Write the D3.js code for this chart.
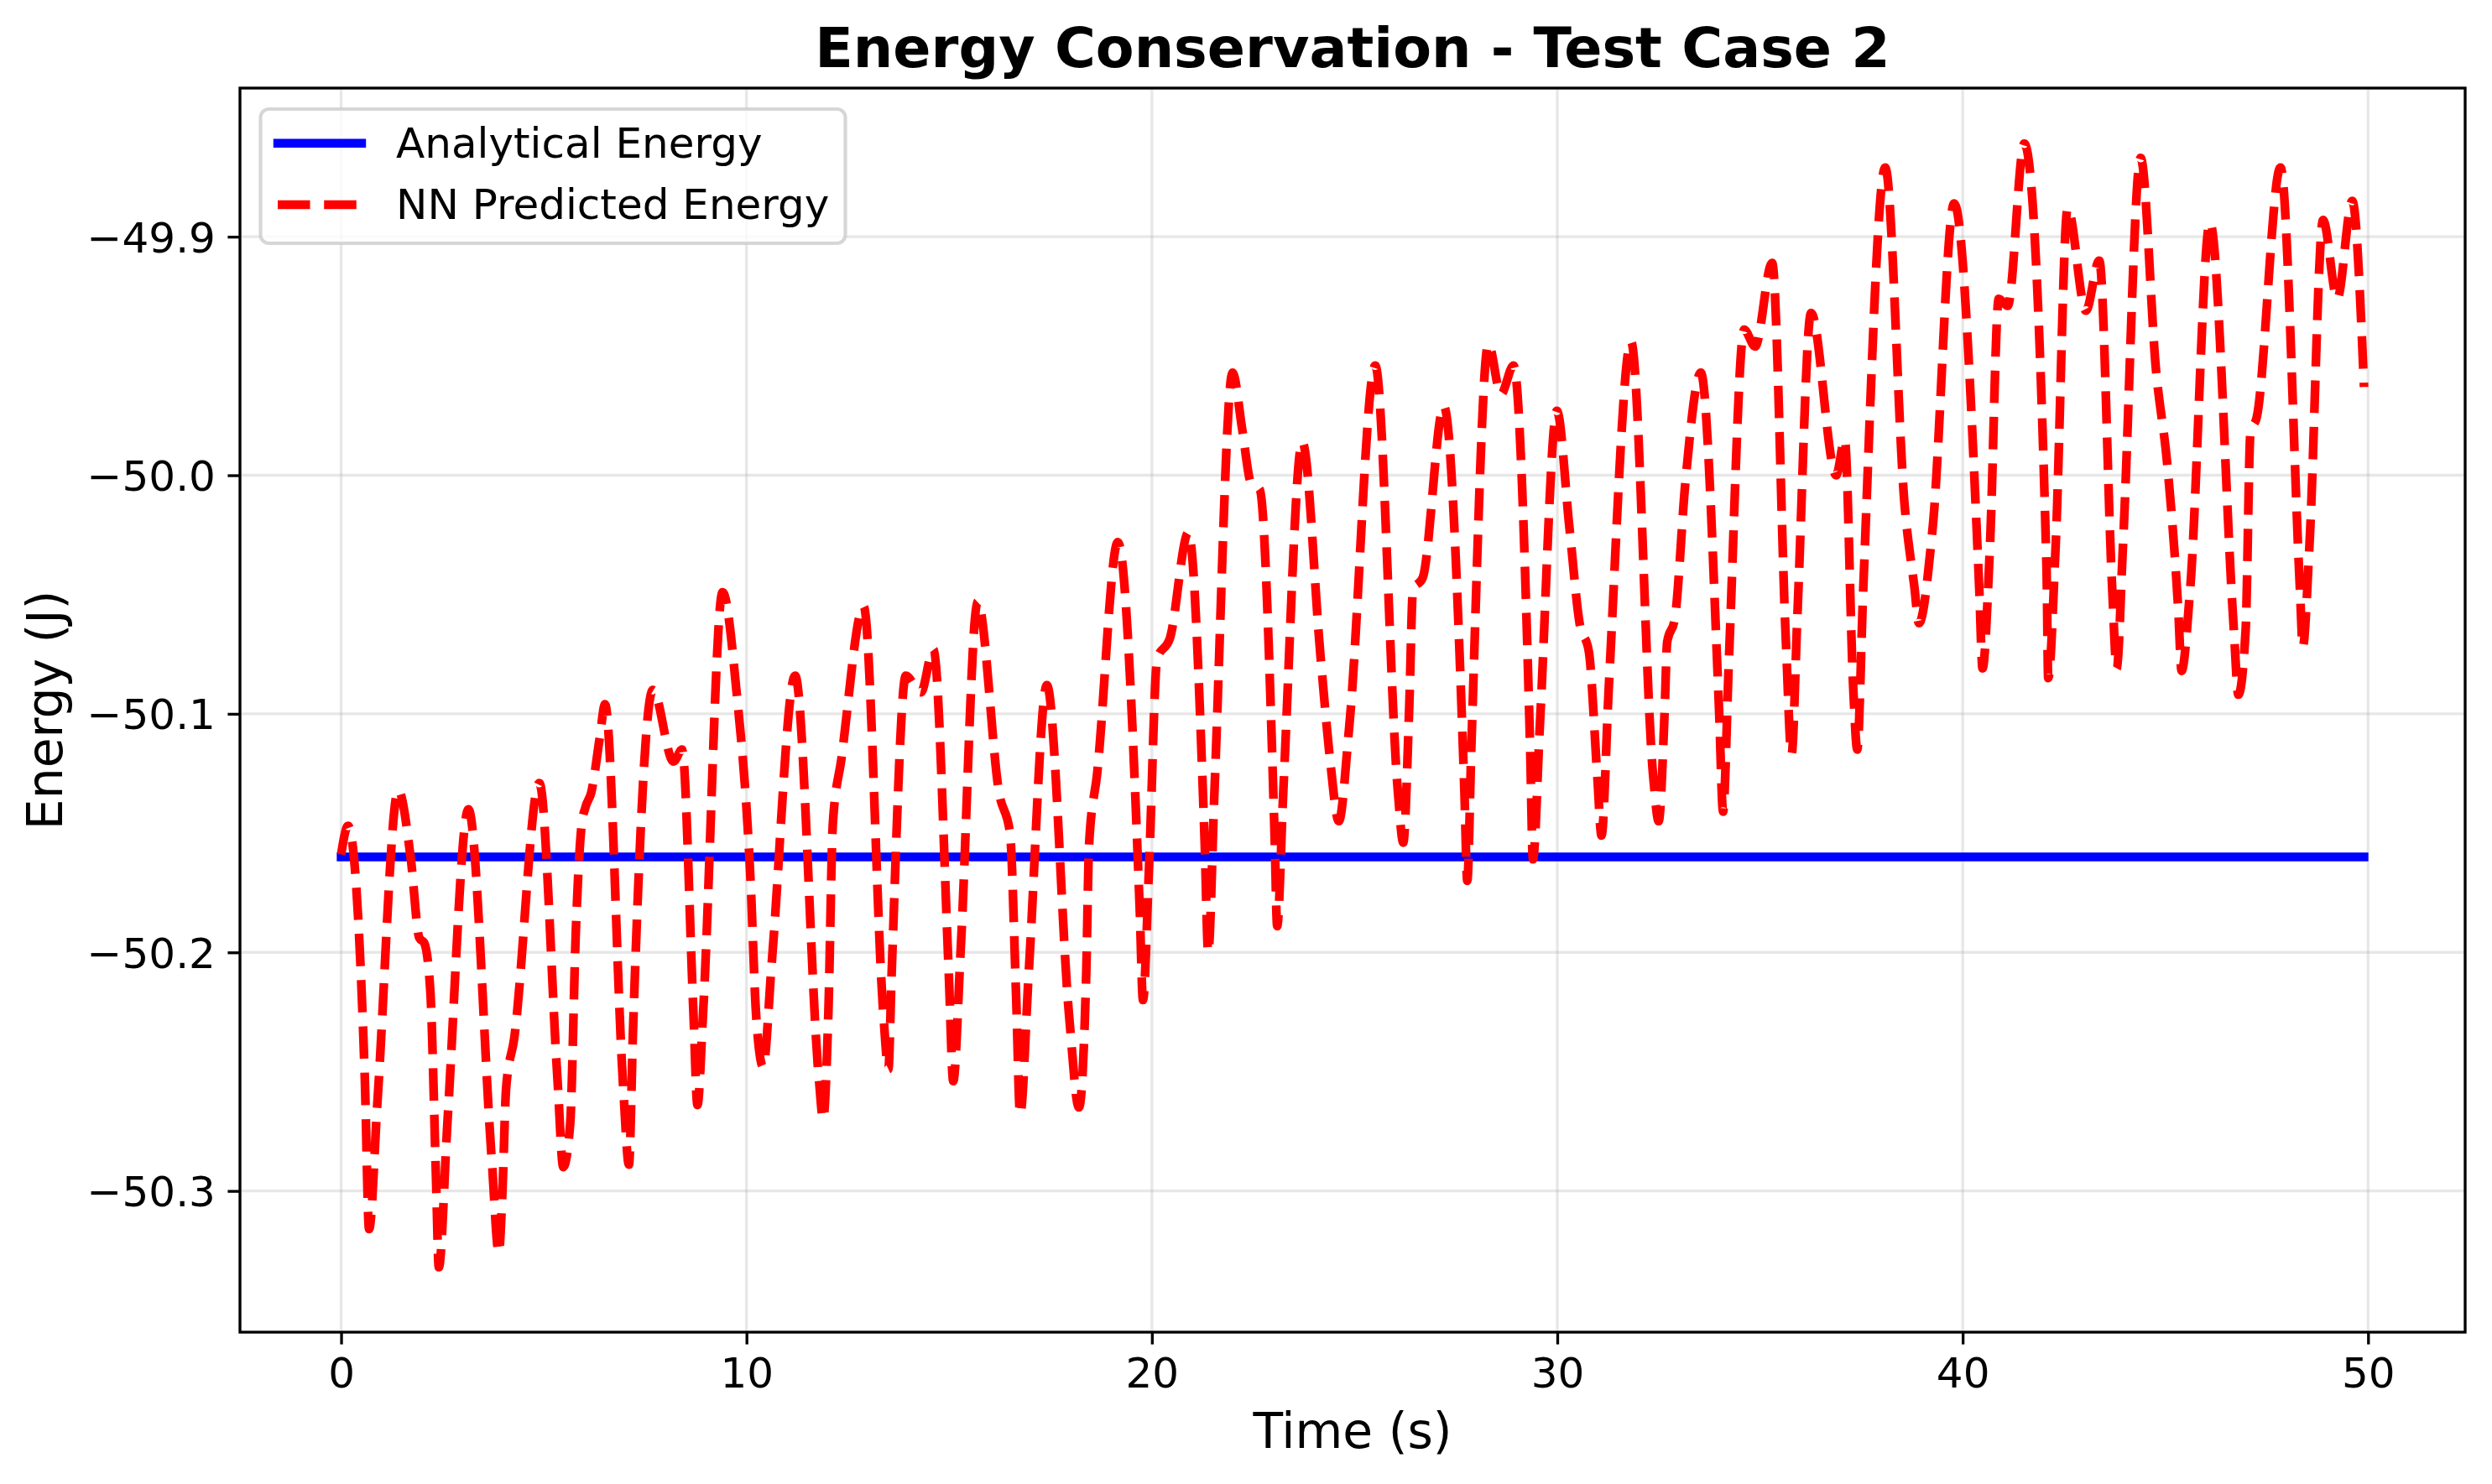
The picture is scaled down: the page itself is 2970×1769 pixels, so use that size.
<!DOCTYPE html>
<html>
<head>
<meta charset="utf-8">
<script src="https://cdn.jsdelivr.net/npm/d3@7"></script>
<style>
  html, body { margin: 0; padding: 0; background: #ffffff; }
  svg { display: block; }
  text { font-family: "DejaVu Sans", sans-serif; }
</style>
</head>
<body>
<svg id="chart" width="2970" height="1769"></svg>
<script>
// ---------------- data ----------------
const chartTitle = "Energy Conservation - Test Case 2";
const xLabel = "Time (s)";
const yLabel = "Energy (J)";
const seriesNames = ["Analytical Energy", "NN Predicted Energy"];

const xTicks = [0, 10, 20, 30, 40, 50];
const yTicks = [-50.3, -50.2, -50.1, -50.0, -49.9];
const xLimits = [-2.495, 52.395];
const yLimits = [-50.3592, -49.8377];

const analyticalTime = [0, 49.9];
const analyticalEnergy = [-50.16, -50.16];

const nnTime = [
  0.00, 0.17, 0.585, 0.69, 0.895, 1.41, 1.72, 1.93, 2.05, 2.20,
  2.34, 2.41, 2.62, 3.14, 3.72, 3.89, 3.98, 4.07, 4.27, 4.89,
  5.34, 5.48, 5.65, 5.79, 5.93, 6.03, 6.17, 6.38, 6.51, 6.96,
  7.10, 7.20, 7.69, 8.20, 8.41, 8.69, 8.79, 8.93, 9.41, 9.75,
  10.10, 10.24, 10.41, 10.62, 11.20, 11.79, 11.89, 12.02, 12.13, 12.34,
  12.89, 13.38, 13.50, 13.58, 13.93, 14.30, 14.61, 14.99, 15.10, 15.28,
  15.70, 16.24, 16.50, 16.65, 16.75, 16.96, 17.41, 17.96, 18.20, 18.38,
  18.45, 18.65, 19.16, 19.70, 19.78, 19.93, 20.13, 20.45, 20.90, 21.30,
  21.39, 21.54, 21.99, 22.23, 22.44, 22.66, 23.03, 23.09, 23.24, 23.71,
  24.16, 24.40, 24.61, 24.87, 25.51, 26.07, 26.20, 26.35, 26.44, 26.68,
  27.20, 27.71, 27.78, 27.88, 28.30, 28.61, 28.92, 29.33, 29.40, 29.57,
  29.99, 30.30, 30.55, 30.78, 30.99, 31.09, 31.27, 31.82, 32.37, 32.50,
  32.65, 32.71, 32.90, 33.16, 33.54, 33.99, 34.09, 34.23, 34.61, 34.88,
  35.30, 35.64, 35.78, 35.92, 36.26, 36.88, 37.09, 37.30, 37.40, 37.54,
  38.09, 38.57, 38.81, 38.92, 39.26, 39.79, 40.41, 40.49, 40.67, 40.89,
  41.11, 41.52, 42.07, 42.11, 42.29, 42.59, 43.04, 43.37, 43.69, 43.80,
  43.95, 44.39, 44.77, 45.05, 45.32, 45.40, 45.61, 46.10, 46.69, 46.80,
  46.98, 47.10, 47.25, 47.84, 48.32, 48.39, 48.55, 48.89, 49.24, 49.61,
  49.90
];
const nnEnergy = [
  -50.159, -50.147, -50.253, -50.316, -50.263, -50.132, -50.161, -50.194, -50.196, -50.216,
  -50.294, -50.332, -50.272, -50.140, -50.288, -50.326, -50.300, -50.257, -50.236, -50.129,
  -50.254, -50.290, -50.272, -50.191, -50.147, -50.139, -50.133, -50.110, -50.096, -50.257,
  -50.289, -50.233, -50.090, -50.120, -50.115, -50.225, -50.264, -50.225, -50.049, -50.090,
  -50.170, -50.227, -50.248, -50.205, -50.084, -50.254, -50.270, -50.225, -50.146, -50.119,
  -50.055, -50.227, -50.249, -50.209, -50.084, -50.091, -50.073, -50.209, -50.254, -50.200,
  -50.053, -50.134, -50.150, -50.218, -50.268, -50.209, -50.088, -50.227, -50.265, -50.209,
  -50.155, -50.125, -50.028, -50.182, -50.220, -50.164, -50.077, -50.068, -50.024, -50.153,
  -50.200, -50.134, -49.957, -49.981, -50.003, -50.006, -50.153, -50.189, -50.133, -49.986,
  -50.076, -50.120, -50.145, -50.105, -49.954, -50.133, -50.154, -50.096, -50.048, -50.043,
  -49.971, -50.133, -50.170, -50.114, -49.945, -49.966, -49.954, -50.114, -50.161, -50.105,
  -49.973, -50.022, -50.062, -50.074, -50.127, -50.151, -50.089, -49.944, -50.127, -50.145,
  -50.098, -50.070, -50.060, -50.003, -49.957, -50.098, -50.141, -50.079, -49.939, -49.946,
  -49.911, -50.070, -50.117, -50.060, -49.932, -50.000, -49.985, -50.089, -50.115, -50.051,
  -49.871, -50.013, -50.047, -50.062, -50.022, -49.886, -50.048, -50.081, -50.031, -49.926,
  -49.929, -49.861, -50.040, -50.085, -50.031, -49.888, -49.931, -49.910, -50.048, -50.081,
  -50.031, -49.867, -49.956, -49.996, -50.057, -50.082, -50.048, -49.894, -50.065, -50.092,
  -50.065, -49.982, -49.976, -49.871, -50.048, -50.072, -50.031, -49.893, -49.926, -49.885,
  -49.963
];

// ---------------- layout ----------------
const W = 2970, H = 1769;
const plot = { left: 286, top: 105, right: 2938, bottom: 1588 };
const PT = 300 / 72; // px per point

const svg = d3.select("#chart");
svg.append("rect").attr("width", W).attr("height", H).attr("fill", "#ffffff");

const x = d3.scaleLinear().domain(xLimits).range([plot.left, plot.right]);
const y = d3.scaleLinear().domain(yLimits).range([plot.bottom, plot.top]);

// grid
const grid = svg.append("g");
grid.selectAll("line.gx").data(xTicks).enter().append("line")
  .attr("x1", d => x(d)).attr("x2", d => x(d))
  .attr("y1", plot.top).attr("y2", plot.bottom)
  .attr("stroke", "#b0b0b0").attr("stroke-opacity", 0.3).attr("stroke-width", 0.8 * PT);
grid.selectAll("line.gy").data(yTicks).enter().append("line")
  .attr("x1", plot.left).attr("x2", plot.right)
  .attr("y1", d => y(d)).attr("y2", d => y(d))
  .attr("stroke", "#b0b0b0").attr("stroke-opacity", 0.3).attr("stroke-width", 0.8 * PT);

// clip
svg.append("clipPath").attr("id", "clip").append("rect")
  .attr("x", plot.left).attr("y", plot.top)
  .attr("width", plot.right - plot.left).attr("height", plot.bottom - plot.top);

const lines = svg.append("g").attr("clip-path", "url(#clip)");

const analytical = analyticalTime.map((t, i) => [t, analyticalEnergy[i]]);
const nn = nnTime.map((t, i) => [t, nnEnergy[i]]);

lines.append("path")
  .datum(analytical)
  .attr("d", d3.line().x(d => x(d[0])).y(d => y(d[1])))
  .attr("fill", "none").attr("stroke", "#0000ff")
  .attr("stroke-width", 2.5 * PT).attr("stroke-linecap", "square");

lines.append("path")
  .datum(nn)
  .attr("d", d3.line().curve(d3.curveMonotoneX).x(d => x(d[0])).y(d => y(d[1])))
  .attr("fill", "none").attr("stroke", "#ff0000")
  .attr("stroke-width", 2.5 * PT)
  .attr("stroke-dasharray", `${3.7 * 2.5 * PT},${1.6 * 2.5 * PT}`)
  .attr("stroke-linejoin", "round").attr("stroke-linecap", "butt");

// axes
const xAxis = d3.axisBottom(x).tickValues(xTicks).tickFormat(d3.format("d"))
  .tickSizeInner(3.5 * PT).tickSizeOuter(0).tickPadding(3.5 * PT);
const yAxis = d3.axisLeft(y).tickValues(yTicks).tickFormat(d => d3.format(".1f")(d).replace("-", "\u2212"))
  .tickSizeInner(3.5 * PT).tickSizeOuter(0).tickPadding(3.5 * PT);

const gx = svg.append("g").attr("transform", `translate(0,${plot.bottom})`).call(xAxis);
const gy = svg.append("g").attr("transform", `translate(${plot.left},0)`).call(yAxis);
[gx, gy].forEach(g => {
  g.select(".domain").remove();
  g.selectAll(".tick line").attr("stroke", "#000").attr("stroke-width", 0.8 * PT);
  g.selectAll(".tick text").attr("fill", "#000").attr("font-size", 50)
    .attr("font-family", "DejaVu Sans");
});
gx.selectAll(".tick text").attr("dy", null).attr("y", 3.5 * PT + 14.8)
  .attr("dominant-baseline", "hanging");
gy.selectAll(".tick text").attr("dy", "0.36em");

// spines
svg.append("rect")
  .attr("x", plot.left).attr("y", plot.top)
  .attr("width", plot.right - plot.left).attr("height", plot.bottom - plot.top)
  .attr("fill", "none").attr("stroke", "#000").attr("stroke-width", 0.8 * PT);

// labels
svg.append("text").attr("x", (plot.left + plot.right) / 2).attr("y", 80)
  .attr("text-anchor", "middle").attr("font-size", 66.7).attr("font-weight", "bold")
  .attr("fill", "#000").text(chartTitle);
svg.append("text").attr("x", (plot.left + plot.right) / 2).attr("y", 1725.5)
  .attr("text-anchor", "middle").attr("font-size", 58.3).attr("fill", "#000").text(xLabel);
svg.append("text")
  .attr("transform", `translate(74,${(plot.top + plot.bottom) / 2}) rotate(-90)`)
  .attr("text-anchor", "middle").attr("font-size", 58.3).attr("fill", "#000").text(yLabel);

// legend
const lg = svg.append("g");
lg.append("rect").attr("x", 310.5).attr("y", 130).attr("width", 697).attr("height", 160)
  .attr("rx", 10).attr("ry", 10)
  .attr("fill", "#ffffff").attr("fill-opacity", 0.8)
  .attr("stroke", "#cccccc").attr("stroke-opacity", 0.8).attr("stroke-width", 1.0 * PT);
const legendItems = [
  { name: seriesNames[0], color: "#0000ff", width: 2.5 * PT, dash: null, cap: "square", y: 170.7, ty: 188.3 },
  { name: seriesNames[1], color: "#ff0000", width: 2.5 * PT, dash: `${3.7 * 2.5 * PT},${1.6 * 2.5 * PT}`, cap: "butt", y: 244, ty: 260.7 }
];
legendItems.forEach(it => {
  lg.append("line").attr("x1", 331).attr("x2", 431).attr("y1", it.y).attr("y2", it.y)
    .attr("stroke", it.color).attr("stroke-width", it.width)
    .attr("stroke-linecap", it.cap).attr("stroke-dasharray", it.dash);
  lg.append("text").attr("x", 472).attr("y", it.ty).attr("font-size", 50)
    .attr("fill", "#000").text(it.name);
});
</script>
</body>
</html>
